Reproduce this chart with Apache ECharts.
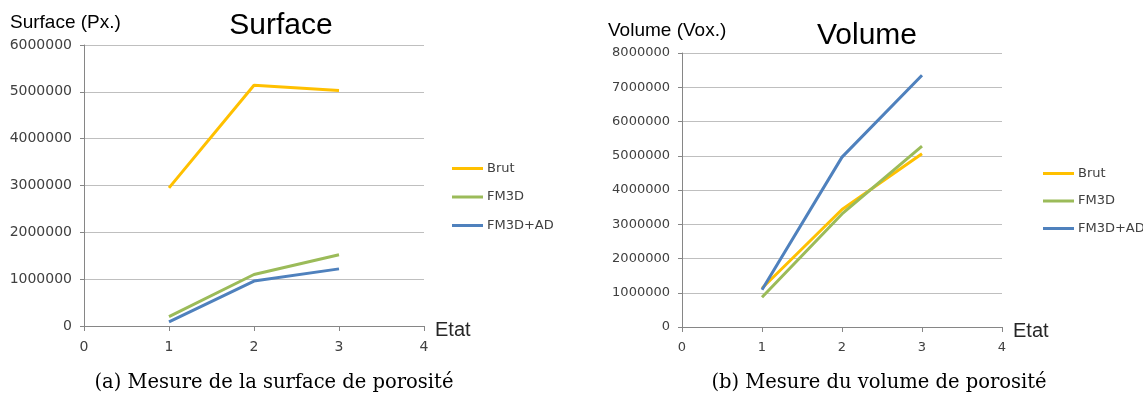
<!DOCTYPE html>
<html>
<head>
<meta charset="utf-8">
<script src="https://cdn.jsdelivr.net/npm/echarts@6/dist/echarts.min.js"></script>
<style>
  html, body { margin: 0; padding: 0; background: #fff; }
  #main { width: 1143px; height: 394px; }
</style>
</head>
<body>
<div id="main"></div>
<script>
// x = Etat
var etats = [1, 2, 3];
var seriesNames = ['Brut', 'FM3D', 'FM3D+AD'];
var seriesColors = ['#FFC000', '#9BBB59', '#4F81BD'];

// (a) surface in pixels
var surfaceBrut = [2950000, 5140000, 5030000];
var surfaceFM3D = [200000, 1100000, 1520000];
var surfaceFM3DAD = [90000, 960000, 1220000];

// (b) volume in voxels
var volumeBrut = [1130000, 3430000, 5060000];
var volumeFM3D = [870000, 3300000, 5280000];
var volumeFM3DAD = [1090000, 4960000, 7350000];

var sans = 'Liberation Sans';
var tickFont = 'DejaVu Sans';

function toPoints(values) {
    return values.map(function (v, i) { return [etats[i], v]; });
}

function makeX(gridIndex, fontSize) {
    return {
        type: 'value', gridIndex: gridIndex, min: 0, max: 4, interval: 1,
        name: 'Etat', nameLocation: 'end', nameGap: 11,
        nameTextStyle: { fontFamily: sans, fontSize: 20, color: '#262626', verticalAlign: 'top', lineHeight: 8 },
        axisLine: { lineStyle: { color: '#868686', width: 1 } },
        axisTick: { show: true, length: 5, lineStyle: { color: '#868686' } },
        axisLabel: { fontFamily: tickFont, fontSize: fontSize, color: '#404040', margin: 14 },
        splitLine: { show: false }
    };
}

function makeY(gridIndex, max, fontSize) {
    return {
        type: 'value', gridIndex: gridIndex, min: 0, max: max, interval: 1000000,
        axisLine: { show: true, lineStyle: { color: '#868686', width: 1 } },
        axisTick: { show: true, length: 4, lineStyle: { color: '#868686' } },
        axisLabel: { fontFamily: tickFont, fontSize: fontSize, color: '#404040', margin: 12,
                     formatter: function (v) { return String(v); } },
        splitLine: { show: true, lineStyle: { color: '#BFBFBF', width: 1 } }
    };
}

function makeLine(name, values, idx) {
    return {
        name: name, type: 'line', xAxisIndex: idx, yAxisIndex: idx,
        data: toPoints(values), symbol: 'none', silent: true,
        lineStyle: { width: 3 }
    };
}

function makeLegend(left, top, gap) {
    return {
        data: seriesNames, orient: 'vertical', left: left, top: top,
        icon: 'rect', itemWidth: 31, itemHeight: 3, itemGap: gap,
        textStyle: { fontFamily: tickFont, fontSize: 13, color: '#404040', padding: [0, 0, 0, -1] },
        selectedMode: false
    };
}

var chart = echarts.init(document.getElementById('main'));
chart.setOption({
    animation: false,
    color: seriesColors,
    title: [
        { text: 'Surface', left: 281, top: 11, textAlign: 'center', padding: 0,
          textStyle: { fontFamily: sans, fontSize: 30, fontWeight: 'normal', color: '#000' } },
        { text: 'Surface (Px.)', left: 10, top: 13, padding: 0,
          textStyle: { fontFamily: sans, fontSize: 19, fontWeight: 'normal', color: '#000' } },
        { text: 'Volume', left: 867, top: 21, textAlign: 'center', padding: 0,
          textStyle: { fontFamily: sans, fontSize: 30, fontWeight: 'normal', color: '#000' } },
        { text: 'Volume (Vox.)', left: 608, top: 21, padding: 0,
          textStyle: { fontFamily: sans, fontSize: 19, fontWeight: 'normal', color: '#000' } },
        { text: '(a) Mesure de la surface de porosité', left: 274, top: 373, textAlign: 'center', padding: 0,
          textStyle: { fontFamily: 'DejaVu Serif', fontSize: 19.5, fontWeight: 'normal', color: '#000' } },
        { text: '(b) Mesure du volume de porosité', left: 879, top: 373, textAlign: 'center', padding: 0,
          textStyle: { fontFamily: 'DejaVu Serif', fontSize: 19.5, fontWeight: 'normal', color: '#000' } }
    ],
    legend: [makeLegend(447, 157, 15.5), makeLegend(1038, 162, 14.5)],
    grid: [
        { left: 84, top: 45, width: 340, height: 281 },
        { left: 682, top: 53, width: 320, height: 274 }
    ],
    xAxis: [makeX(0, 14), makeX(1, 13)],
    yAxis: [makeY(0, 6000000, 14), makeY(1, 8000000, 13)],
    series: [
        makeLine(seriesNames[0], surfaceBrut, 0),
        makeLine(seriesNames[1], surfaceFM3D, 0),
        makeLine(seriesNames[2], surfaceFM3DAD, 0),
        makeLine(seriesNames[0], volumeBrut, 1),
        makeLine(seriesNames[1], volumeFM3D, 1),
        makeLine(seriesNames[2], volumeFM3DAD, 1)
    ]
});
</script>
</body>
</html>
